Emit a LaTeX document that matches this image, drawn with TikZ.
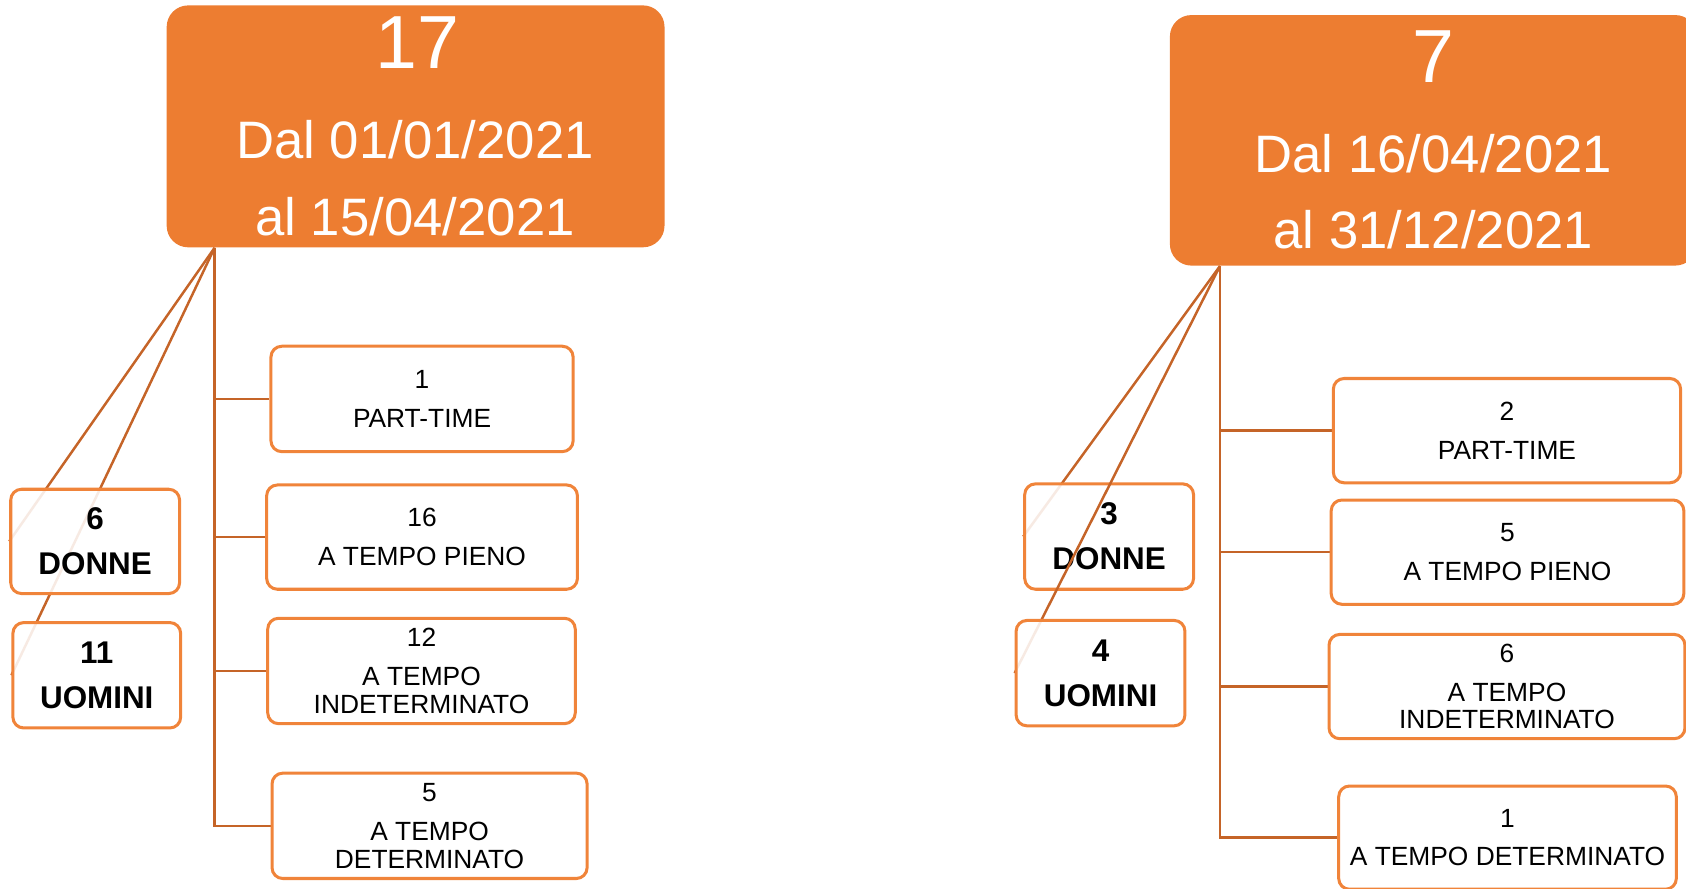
\documentclass[tikz,border=0pt]{standalone}
\usepackage{fontspec}
\setmainfont{Liberation Sans}
\usetikzlibrary{calc}
\definecolor{orfill}{HTML}{ED7D31}
\definecolor{orbord}{RGB}{240,132,58}
\definecolor{orline}{RGB}{197,100,40}
\pgfdeclarelayer{bg}
\pgfdeclarelayer{fg}
\pgfsetlayers{bg,main,fg}
\begin{document}
\begin{tikzpicture}[x=0.5pt,y=-0.5pt,
  rootbox/.style={fill=orfill,draw=none,rounded corners=10pt,inner sep=0pt},
  bigtxt/.style={text=white,anchor=base,inner sep=0pt,font=\fontsize{35}{40}\selectfont},
  datetxt/.style={text=white,anchor=base,inner sep=0pt,font=\fontsize{24.5}{28}\selectfont},
  itembox/.style={draw=orbord,line width=1.4pt,fill=white,rounded corners=5pt,align=center,inner sep=0pt,
     font=\fontsize{12.25}{13}\selectfont},
  genbox/.style={draw=orbord,line width=1.4pt,fill=white,fill opacity=0.87,text opacity=1,rounded corners=5pt,
     align=center,inner sep=0pt,font=\fontsize{14.6}{21}\selectfont\bfseries},
  conn/.style={draw=orline,line width=1.15pt}]
\useasboundingbox (0,0) rectangle (1568,826);
% ---------- left group ----------
\node[rootbox,minimum width=231.5pt,minimum height=112.5pt] (rootL) at (386.5,117.5) {};
\node[bigtxt] (rootLn) at (388,64) {17};
\node[datetxt] (rootLa) at (386,147) {Dal 01/01/2021};
\node[datetxt] (rootLb) at (386,219) {al 15/04/2021};
\coordinate (rL) at ($(rootL.south west)+(45,0)$);
\node[itembox,minimum width=140.5pt,minimum height=49pt] (b1) at (392.5,371) {1\\[5pt]PART-TIME};
\node[itembox,minimum width=144.5pt,minimum height=48.5pt] (b2) at (392.5,499.5) {16\\[5pt]A TEMPO PIENO};
\node[itembox,minimum width=143pt,minimum height=49pt] (b3) at (392,624) {12\\[5pt]A TEMPO\\INDETERMINATO};
\node[itembox,minimum width=146.5pt,minimum height=49pt] (b4) at (399.5,768) {5\\[5pt]A TEMPO\\DETERMINATO};
\node[genbox,minimum width=78.5pt,minimum height=48.5pt] (dL) at (88.5,503.5) {6\\DONNE};
\node[genbox,minimum width=78pt,minimum height=49pt] (uL) at (90,628) {11\\UOMINI};
% ---------- right group ----------
\node[rootbox,minimum width=245pt,minimum height=116.5pt] (rootR) at (1333,130.5) {};
\node[bigtxt] (rootRn) at (1333,77) {7};
\node[datetxt] (rootRa) at (1333,160) {Dal 16/04/2021};
\node[datetxt] (rootRb) at (1333,231) {al 31/12/2021};
\coordinate (rR) at ($(rootR.south west)+(47,0)$);
\node[itembox,minimum width=161.5pt,minimum height=48.5pt] (c1) at (1401.5,400.5) {2\\[5pt]PART-TIME};
\node[itembox,minimum width=164pt,minimum height=48.5pt] (c2) at (1402,513.5) {5\\[5pt]A TEMPO PIENO};
\node[itembox,minimum width=165.5pt,minimum height=48.5pt] (c3) at (1401.5,638.5) {6\\[5pt]A TEMPO\\INDETERMINATO};
\node[itembox,minimum width=157pt,minimum height=48pt] (c4) at (1402,779) {1\\[5pt]A TEMPO DETERMINATO};
\node[genbox,minimum width=78.5pt,minimum height=49pt] (dR) at (1031.5,499) {3\\DONNE};
\begin{pgfonlayer}{fg}
\node[genbox,minimum width=78.5pt,minimum height=49pt] (uR) at (1023.5,626) {4\\UOMINI};
\end{pgfonlayer}
% ---------- connectors ----------
\begin{pgfonlayer}{bg}
\draw[conn] (rL) |- (b1.west);
\draw[conn] (rL) |- (b2.west);
\draw[conn] (rL) |- (b3.west);
\draw[conn] (rL) |- (b4.west);
\draw[conn] (rL) -- (dL.west);
\draw[conn] (rL) -- (uL.west);
\draw[conn] (rR) |- (c1.west);
\draw[conn] (rR) |- (c2.west);
\draw[conn] (rR) |- (c3.west);
\draw[conn] (rR) |- (c4.west);
\draw[conn] (rR) -- (dR.west);
\end{pgfonlayer}
\draw[conn] (rR) -- (uR.west);
\end{tikzpicture}
\end{document}
